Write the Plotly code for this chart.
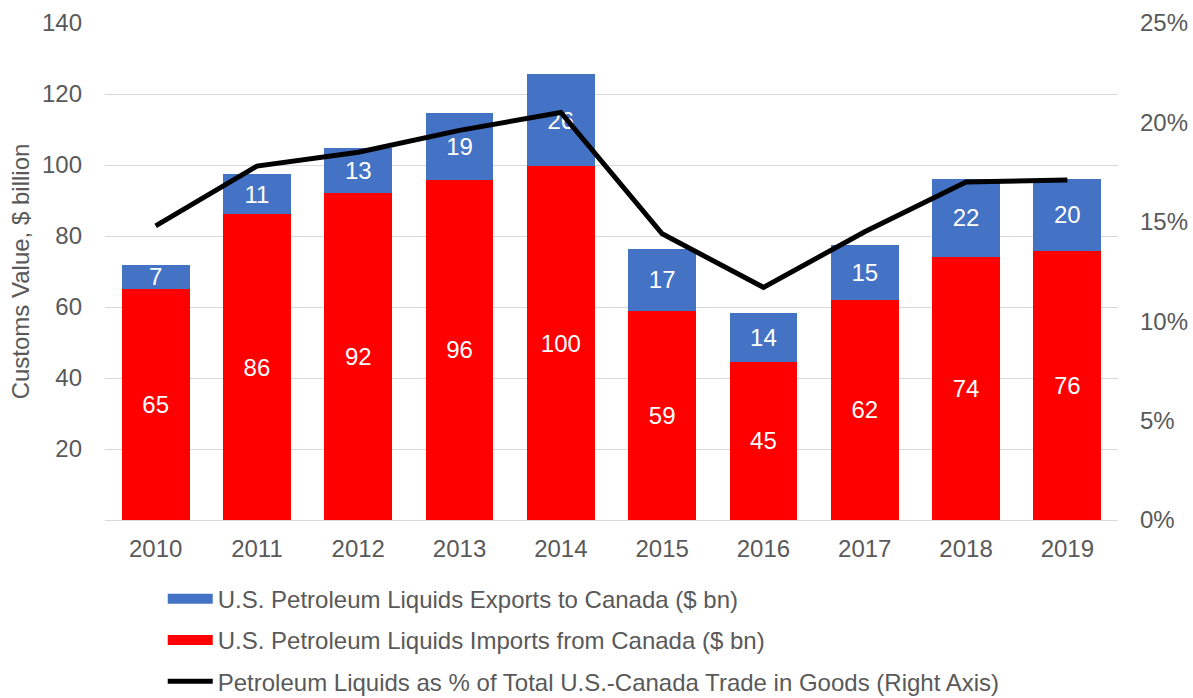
import plotly.graph_objects as go

years = ["2010", "2011", "2012", "2013", "2014", "2015", "2016", "2017", "2018", "2019"]
imports_bn = [65.2, 86.1, 92.2, 95.9, 99.6, 59.0, 44.6, 62.0, 74.1, 75.9]
exports_bn = [6.6, 11.3, 12.6, 18.8, 26.1, 17.3, 13.8, 15.4, 22.0, 20.2]
share_pct = [0.148, 0.178, 0.185, 0.196, 0.205, 0.144, 0.117, 0.145, 0.170, 0.171]

left_ticks = [20, 40, 60, 80, 100, 120, 140]

name_exp = "U.S. Petroleum Liquids Exports to Canada ($ bn)"
name_imp = "U.S. Petroleum Liquids Imports from Canada ($ bn)"
name_line = "Petroleum Liquids as % of Total U.S.-Canada Trade in Goods (Right Axis)"

BLUE = "#4472C4"
RED = "#FF0000"
GREY = "#595959"
FONT = "Arial, Liberation Sans, sans-serif"
FS = 24

fig = go.Figure()
fig.add_trace(go.Bar(
    x=years, y=imports_bn, name=name_imp, marker=dict(color=RED, line=dict(width=0)),
    texttemplate="%{y:.0f}", textposition="inside", insidetextanchor="middle",
    textangle=0, constraintext="none",
    textfont=dict(color="white", size=FS, family=FONT), showlegend=False,
))
fig.add_trace(go.Bar(
    x=years, y=exports_bn, name=name_exp, marker=dict(color=BLUE, line=dict(width=0)),
    texttemplate="%{y:.0f}", textposition="inside", insidetextanchor="middle",
    textangle=0, constraintext="none",
    textfont=dict(color="white", size=FS, family=FONT), showlegend=False,
))
fig.add_trace(go.Scatter(
    x=years, y=share_pct, name=name_line, mode="lines", yaxis="y2",
    line=dict(color="black", width=5), showlegend=False,
))

# legend proxies
fig.add_trace(go.Scatter(x=[None], y=[None], mode="lines", name=name_exp,
                         line=dict(color=BLUE, width=14), legendgroup="a"))
fig.add_trace(go.Scatter(x=[None], y=[None], mode="lines", name=name_imp,
                         line=dict(color=RED, width=14), legendgroup="b"))
fig.add_trace(go.Scatter(x=[None], y=[None], mode="lines", name=name_line,
                         line=dict(color="black", width=5), legendgroup="c"))

fig.update_layout(
    width=1193, height=698,
    margin=dict(l=105, r=75, t=23, b=178, autoexpand=False),
    paper_bgcolor="white", plot_bgcolor="white",
    barmode="stack", bargap=0.33,
    font=dict(family=FONT, size=FS, color=GREY),
    xaxis=dict(showgrid=False, showline=False, ticks="", tickfont=dict(size=FS, color=GREY),
               ticklabelstandoff=12),
    yaxis=dict(range=[0, 140], tickvals=left_ticks, showgrid=True, gridcolor="#D9D9D9",
               gridwidth=1, zeroline=True, zerolinecolor="#D9D9D9", zerolinewidth=1,
               ticks="", ticklabelstandoff=22, tickfont=dict(size=FS, color=GREY),
               title=dict(text="Customs Value, $ billion", font=dict(size=FS, color=GREY), standoff=5)),
    yaxis2=dict(range=[0, 0.25], dtick=0.05, tickformat=".0%", overlaying="y", side="right",
                showgrid=False, zeroline=False, ticks="", ticklabelstandoff=21,
                tickfont=dict(size=FS, color=GREY)),
    showlegend=True,
    legend=dict(orientation="v", x=0.057, xanchor="left", y=-0.114, yanchor="top",
                font=dict(size=FS, color=GREY), itemwidth=45, tracegroupgap=7,
                traceorder="grouped", bgcolor="rgba(0,0,0,0)"),
)

fig.write_html("out.html", config={"displayModeBar": False},
               post_script="document.body.style.margin='0';")
